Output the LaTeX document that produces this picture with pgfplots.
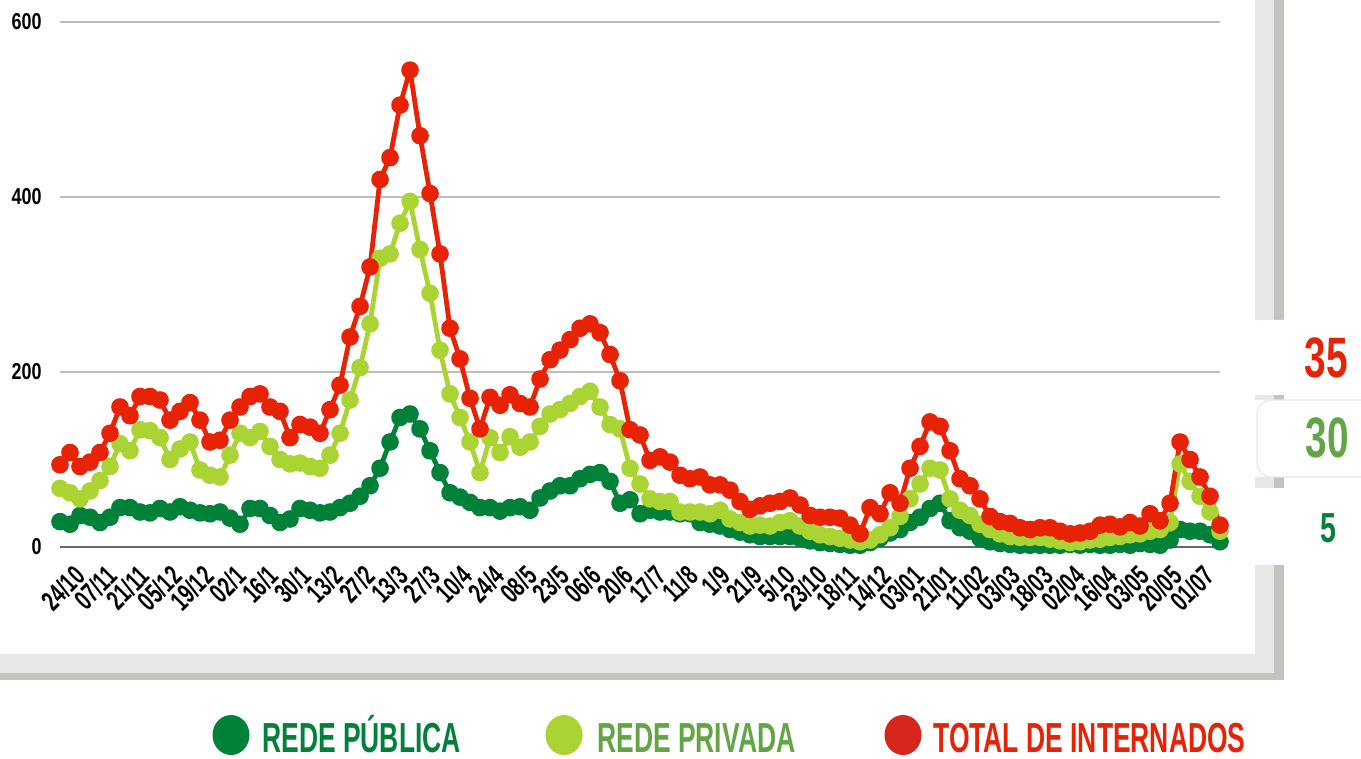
\documentclass[border=0pt]{standalone}
\usepackage{pgfplots}
\pgfplotsset{compat=1.18}
\usepackage{pgfplotstable}
\usepackage{fontspec}
\setmainfont{Liberation Sans}
\newfontfamily\condfont[FakeStretch=0.63]{Liberation Sans}
\newfontfamily\tickfont[FakeStretch=0.68]{Liberation Sans}
\newfontfamily\ytickfont[FakeStretch=0.78]{Liberation Sans}
\newfontfamily\numfont[FakeStretch=0.68]{Liberation Sans}

\definecolor{pub}{HTML}{00813A}
\definecolor{priv}{HTML}{A9D433}
\definecolor{tot}{HTML}{E82205}
\definecolor{privtxt}{HTML}{62A544}
\definecolor{totdot}{HTML}{D9261C}
\definecolor{lg}{HTML}{E8E7E5}
\definecolor{dg}{HTML}{C4C3BF}
\definecolor{gridc}{HTML}{BDBDBD}
\definecolor{basec}{HTML}{666666}

\pgfplotstableread{
x pub priv tot
60 29 67 94
70 26 62 108
80 36 55 92
90 34 64 97
100 28 76 108
110 34 92 130
120 45 118 160
130 45 110 150
140 40 134 172
150 39 133 172
160 44 125 168
170 40 100 145
180 46 112 155
190 42 120 165
200 39 88 145
210 38 82 120
220 40 80 122
230 33 105 145
240 26 130 160
250 44 125 172
260 44 132 175
270 36 115 160
280 28 100 155
290 32 95 125
300 44 96 140
310 42 92 137
320 39 90 130
330 40 105 157
340 45 130 185
350 50 168 240
360 58 205 275
370 70 255 320
380 90 330 420
390 120 335 445
400 148 370 505
410 152 395 545
420 135 340 470
430 110 290 404
440 85 225 335
450 62 175 250
460 57 148 215
470 51 120 170
480 45 85 135
490 45 125 171
500 41 108 162
510 45 126 174
520 46 114 164
530 42 120 160
540 56 138 192
550 64 152 214
560 70 157 225
570 70 164 237
580 78 172 250
590 83 178 255
600 85 160 245
610 75 140 220
620 50 135 190
630 54 90 134
640 38 72 128
650 42 55 99
660 40 52 103
670 40 52 97
680 38 40 82
690 38 40 78
700 28 40 80
710 26 38 71
720 24 42 71
730 20 32 65
740 17 28 52
750 14 24 43
760 12 25 47
770 12 24 50
780 12 28 52
790 12 30 56
800 10 24 48
810 7 18 36
820 5 14 34
830 4 12 34
840 3 10 33
850 2 8 25
860 2 6 15
870 5 8 45
880 10 14 38
890 16 22 62
900 20 35 50
910 28 55 90
920 34 72 115
930 44 90 143
940 50 88 138
950 30 55 110
960 22 42 78
970 18 36 70
980 10 26 55
990 6 20 35
1000 4 15 29
1010 3 12 27
1020 2 11 22
1030 2 11 20
1040 2 11 22
1050 2 9 22
1060 2 7 18
1070 3 5 15
1080 2 6 16
1090 3 8 18
1100 2 9 25
1110 2 11 26
1120 3 12 23
1130 2 14 28
1140 4 15 24
1150 3 18 38
1160 2 20 30
1170 8 28 50
1180 20 95 120
1190 18 75 100
1200 18 58 80
1210 14 40 58
1220 6 18 25
}\datatable

\begin{document}
\begin{tikzpicture}
\begin{scope}[x=0.5pt,y=-0.5pt]
  \path[use as bounding box] (0,0) rectangle (1361,759);
  % frame bars
  \fill[dg] (0,673) rectangle (1284,680);
  \fill[lg] (0,654) rectangle (1274,673);
  \foreach \a/\b in {0/320,395/400,477/488,565/673}{
    \fill[lg] (1255,\a) rectangle (1274,\b);
  }
  \foreach \a/\b in {0/320,395/400,477/488,565/680}{
    \fill[dg] (1274,\a) rectangle (1284,\b);
  }
  \fill[white,rounded corners=7] (1255,320) rectangle (1400,395);
  \filldraw[fill=white,draw=lg,line width=0.6pt,rounded corners=7] (1257,400) rectangle (1400,477);
  % side numbers
  \node[text=tot,inner sep=0] at (1326,358) {\numfont\bfseries\fontsize{28.5pt}{30pt}\selectfont 35};
  \node[text=privtxt,inner sep=0] at (1327,438) {\numfont\bfseries\fontsize{28.5pt}{30pt}\selectfont 30};
  \node[text=pub,inner sep=0] at (1328,528) {\numfont\bfseries\fontsize{21pt}{23pt}\selectfont 5};
  % legend
  \fill[pub] (231,735) ellipse [x radius=18.5, y radius=20];
  \node[text=pub,inner sep=0,text depth=0pt,anchor=base west] at (262,752) {\condfont\bfseries\fontsize{21pt}{23pt}\selectfont REDE PÚBLICA};
  \fill[priv] (564,735) ellipse [x radius=18.5, y radius=20];
  \node[text=privtxt,inner sep=0,text depth=0pt,anchor=base west] at (597,752) {\condfont\bfseries\fontsize{21pt}{23pt}\selectfont REDE PRIVADA};
  \fill[totdot] (903,735) ellipse [x radius=18.5, y radius=20];
  \node[text=tot,inner sep=0,text depth=0pt,anchor=base west] at (933,752) {\condfont\bfseries\fontsize{21pt}{23pt}\selectfont TOTAL DE INTERNADOS};
\end{scope}

\begin{axis}[
  at={(30pt,-273.5pt)}, anchor=south west,
  scale only axis, width=580pt, height=262.5pt,
  xmin=60, xmax=1220, ymin=0, ymax=600,
  clip=false,
  axis line style={draw=none},
  major tick length=0pt,
  tick style={draw=none},
  ytick={200,400,600},
  extra y ticks={0},
  extra y tick style={grid style={basec,line width=1pt}},
  ymajorgrids,
  grid style={gridc,line width=0.6pt},
  xtick={80,112.26,...,1210},
  xticklabels={24/10,07/11,21/11,05/12,19/12,02/1,16/1,30/1,13/2,27/2,13/3,27/3,10/4,24/4,08/5,23/5,06/6,20/6,17/7,11/8,1/9,21/9,5/10,23/10,18/11,14/12,03/01,21/01,11/02,03/03,18/03,02/04,16/04,03/05,20/05,01/07},
  /pgf/number format/assume math mode=true,
  xticklabel style={yshift=-12pt,rotate=45,anchor=east,inner sep=0pt,text depth=0pt,font=\tickfont\bfseries\fontsize{14pt}{15pt}\selectfont},
  yticklabel style={anchor=east,inner sep=0pt,xshift=-9pt,font=\ytickfont\bfseries\fontsize{11.5pt}{13pt}\selectfont},
  every axis plot/.append style={line width=2.4pt,line join=round,mark=*,mark size=3.2pt,mark options={line width=0pt}},
]
\addplot[color=pub,mark options={fill=pub,draw=pub}] table[x=x,y=pub] {\datatable};
\addplot[color=priv,mark options={fill=priv,draw=priv}] table[x=x,y=priv] {\datatable};
\addplot[color=tot,mark options={fill=tot,draw=tot}] table[x=x,y=tot] {\datatable};
\end{axis}
\end{tikzpicture}
\end{document}
